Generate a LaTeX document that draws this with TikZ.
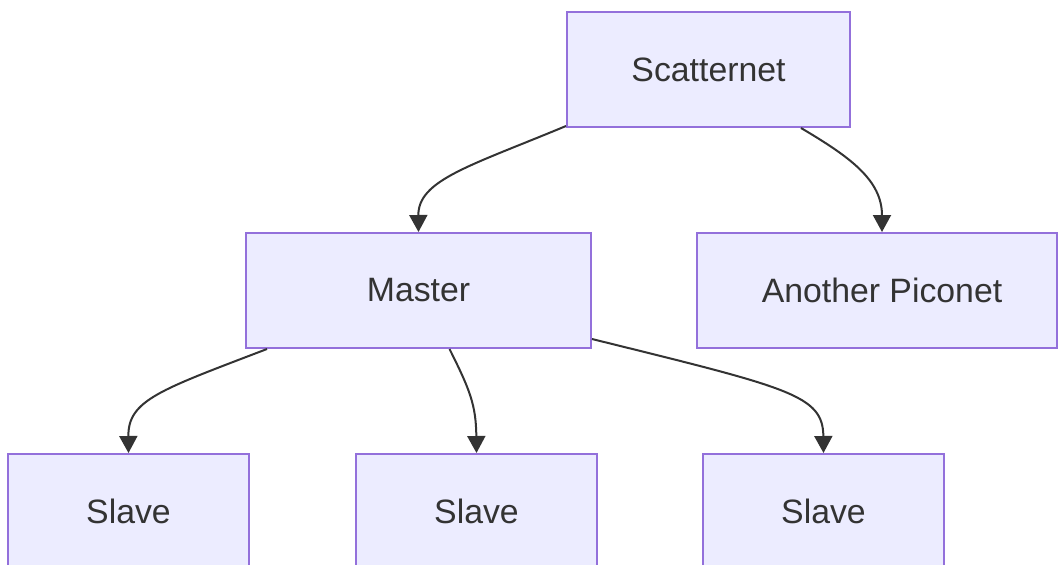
\documentclass[tikz,border=0pt]{standalone}
\usepackage{fontspec}
\setmainfont{Liberation Sans}
\usetikzlibrary{arrows.meta}
\definecolor{boxfill}{HTML}{ECECFF}
\definecolor{boxline}{HTML}{9370DB}
\definecolor{ink}{HTML}{333333}
\begin{document}
\begin{tikzpicture}[x=1pt,y=-1pt,
  box/.style={draw=boxline,fill=boxfill,line width=2pt,inner sep=0pt,
    minimum height=115pt,text=ink,font=\fontsize{33.8}{40}\selectfont},
  link/.style={draw=ink,line width=2pt,-{Triangle[width=18pt,length=17pt]}}]
\useasboundingbox (0,0) rectangle (1058,565);
\node[box,minimum width=283pt] (scat) at (708.5,69.5) {Scatternet};
\node[box,minimum width=345pt] (mast) at (418.5,290.5) {Master};
\node[box,minimum width=360pt] (pico) at (877,290.5) {\hspace*{10pt}Another Piconet};
\node[box,minimum width=241pt] (sl1) at (128.5,511.5) {Slave};
\node[box,minimum width=241pt] (sl2) at (476.5,511.5) {Slave};
\node[box,minimum width=241pt] (sl3) at (823.5,511.5) {Slave};
\draw[link] ([yshift=2pt]scat.south west) .. controls (470,166) and (418,180) .. (mast.north);
\draw[link] ([xshift=-50pt]scat.south east) .. controls (850,157) and (882,180) .. ([xshift=5pt]pico.north);
\draw[link] ([xshift=22pt]mast.south west) .. controls (160,390) and (128,400) .. (sl1.north);
\draw[link] ([xshift=31pt]mast.south) .. controls (470,390) and (476,405) .. (sl2.north);
\draw[link] ([yshift=10pt]mast.south east) .. controls (790,388) and (823,395) .. (sl3.north);
\end{tikzpicture}
\end{document}
